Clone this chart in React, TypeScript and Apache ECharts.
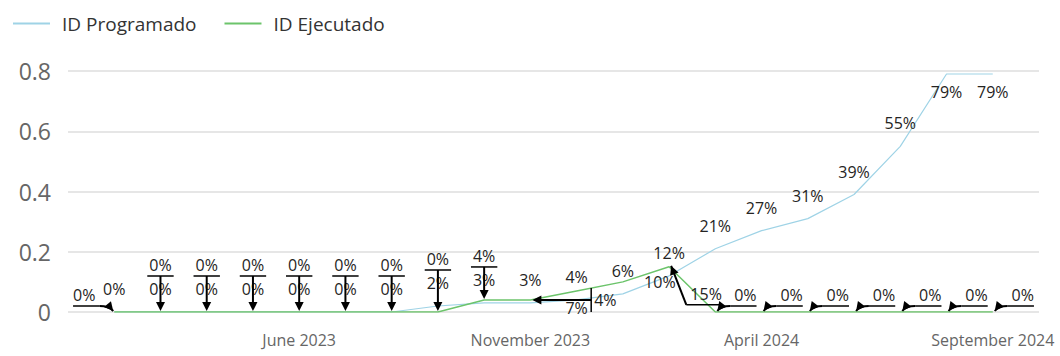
import React, { useEffect, useRef } from "react";
import * as echarts from "echarts";

// ---- data ----
const months = [
  "January 2023", "February 2023", "March 2023", "April 2023", "May 2023", "June 2023",
  "July 2023", "August 2023", "September 2023", "October 2023", "November 2023", "December 2023",
  "January 2024", "February 2024", "March 2024", "April 2024", "May 2024", "June 2024",
  "July 2024", "August 2024", "September 2024", "October 2024",
];
const programado: (number | null)[] = [
  null, 0, 0, 0, 0, 0, 0, 0, 0.02, 0.03, 0.03, 0.04, 0.06, 0.12, 0.21, 0.27, 0.31, 0.39, 0.55, 0.79, 0.79, null,
];
const ejecutado: (number | null)[] = [
  null, 0, 0, 0, 0, 0, 0, 0, 0, 0.04, 0.04, 0.07, 0.1, 0.15, 0, 0, 0, 0, 0, 0, 0, null,
];
const xTickLabels = ["June 2023", "November 2023", "April 2024", "September 2024"];
const yTicks = [0, 0.2, 0.4, 0.6, 0.8];

// ---- label layout (offsets from the point, px) ----
type Lay = { dx: number; dy: number; leader?: "down" | "toLeft" | "toRight" | "side" };
const blueLay: (Lay | null)[] = months.map((_, k) => {
  if (k === 19 || k === 20) return { dx: 0, dy: 18 };
  return { dx: 0, dy: -23 };
});
const greenLay: (Lay | null)[] = months.map((_, k) => {
  if (k === 1) return { dx: -30, dy: -17, leader: "toRight" };
  if (k >= 2 && k <= 7) return { dx: 0, dy: -47, leader: "down" };
  if (k === 8) return { dx: 0, dy: -53, leader: "down" };
  if (k === 9) return { dx: 0, dy: -44, leader: "down" };
  if (k === 10) return { dx: 75, dy: 0, leader: "side" };
  if (k === 11) return { dx: 0, dy: 17 };
  if (k === 12) return { dx: 37, dy: 0 };
  if (k === 13) return { dx: 37, dy: 27, leader: "toLeft" };
  return { dx: 30, dy: -17, leader: "toLeft" };
});

const BLUE = "#9fd3e6";
const GREEN = "#6cc46b";
const FONT = "'Open Sans', 'Noto Sans', sans-serif";
const LABEL_SIZE = 16;
const LABEL_COLOR = "#252423";

let measureCtx: CanvasRenderingContext2D | null = null;
function textWidth(t: string): number {
  if (!measureCtx) measureCtx = document.createElement("canvas").getContext("2d");
  if (!measureCtx) return t.length * 9;
  measureCtx.font = `${LABEL_SIZE}px ${FONT}`;
  return measureCtx.measureText(t).width;
}

function arrowHead(tx: number, ty: number, fx: number, fy: number) {
  let dx = tx - fx, dy = ty - fy;
  const len = Math.sqrt(dx * dx + dy * dy) || 1;
  dx /= len; dy /= len;
  const L = 9, W = 4.5;
  const bx = tx - dx * L, by = ty - dy * L;
  return {
    type: "polygon",
    shape: { points: [[tx, ty], [bx - dy * W, by + dx * W], [bx + dy * W, by - dx * W]] },
    style: { fill: "#000" },
  };
}

function makeRenderer(lays: (Lay | null)[]) {
  return (params: any, api: any) => {
    const k = api.value(0);
    const v = api.value(1);
    const p = api.coord([k, v]);
    const px = p[0], py = p[1];
    const lay = lays[k];
    if (!lay) return null;
    const text = Math.round(v * 100) + "%";
    const w = textWidth(text);
    const lx = px + lay.dx, ly = py + lay.dy;
    const children: any[] = [
      {
        type: "text",
        x: lx,
        y: ly,
        style: {
          text,
          fill: LABEL_COLOR,
          fontSize: LABEL_SIZE,
          fontFamily: FONT,
          align: "center",
          verticalAlign: "middle",
        },
      },
    ];
    const stroke = { stroke: "#000", lineWidth: 2, fill: null };
    const uy = ly + 11;
    if (lay.leader === "down") {
      children.push({ type: "line", shape: { x1: lx - w / 2 - 2, y1: uy, x2: lx + w / 2 + 2, y2: uy }, style: { stroke: "#000", lineWidth: 1.5 } });
      const ty = py - 1;
      children.push({ type: "line", shape: { x1: lx, y1: uy, x2: px, y2: ty - 8 }, style: stroke });
      children.push(arrowHead(px, ty, lx, uy));
    } else if (lay.leader === "toLeft" || lay.leader === "toRight") {
      const left = lay.leader === "toLeft";
      const x1 = lx - w / 2 - (left ? 4 : 0);
      const x2 = lx + w / 2 + (left ? 0 : 4);
      children.push({ type: "line", shape: { x1, y1: uy, x2, y2: uy }, style: { stroke: "#000", lineWidth: 1.5 } });
      const sx = left ? x1 : x2;
      const tx = px + (left ? 2 : -1), ty = py - 1;
      if (Math.abs(ty - uy) < 12) {
        const cx = sx + (tx - sx) * 0.7, cy = uy;
        children.push({ type: "bezierCurve", shape: { x1: sx, y1: uy, x2: tx, y2: ty, cpx1: cx, cpy1: cy }, style: stroke });
        children.push(arrowHead(tx, ty, cx, cy));
      } else {
        children.push({ type: "line", shape: { x1: sx, y1: uy, x2: tx, y2: ty }, style: stroke });
        children.push(arrowHead(tx, ty, sx, uy));
      }
    } else if (lay.leader === "side") {
      const bx = lx - w / 2 - 3;
      children.push({ type: "line", shape: { x1: bx, y1: ly - 12, x2: bx, y2: ly + 12 }, style: { stroke: "#000", lineWidth: 1.5 } });
      const tx = px + 2;
      children.push({ type: "line", shape: { x1: bx, y1: ly, x2: tx + 6, y2: py }, style: stroke });
      children.push(arrowHead(tx, py, bx, ly));
    }
    return { type: "group", children };
  };
}

function labelData(vals: (number | null)[]) {
  const out: number[][] = [];
  vals.forEach((v, k) => {
    if (v != null) out.push([k, v]);
  });
  return out;
}

export default function App() {
  const ref = useRef<HTMLDivElement>(null);
  useEffect(() => {
    if (!ref.current) return;
    const chart = echarts.init(ref.current, null, { renderer: "svg" });
    chart.setOption({
      animation: false,
      textStyle: { fontFamily: FONT },
      legend: {
        data: [
          { name: "ID Programado", icon: "rect", itemStyle: { color: BLUE } },
          { name: "ID Ejecutado", icon: "rect", itemStyle: { color: GREEN } },
        ],
        left: 8,
        top: 9,
        itemWidth: 37,
        itemHeight: 2,
        itemGap: 28,
        textStyle: { fontSize: 19, color: "#333", fontFamily: FONT, padding: [0, 0, 0, 7] },
      },
      grid: { left: 68, right: 21, top: 71, bottom: 44, outerBoundsMode: "none" },
      xAxis: {
        type: "category",
        data: months,
        boundaryGap: false,
        axisLine: { show: false },
        axisTick: { show: false },
        splitLine: { show: false },
        axisLabel: {
          interval: (_i: number, val: string) => xTickLabels.includes(val),
          color: "#666",
          fontSize: 16,
          margin: 20,
          fontFamily: FONT,
        },
      },
      yAxis: {
        type: "value",
        min: yTicks[0],
        max: yTicks[yTicks.length - 1],
        interval: 0.2,
        axisLine: { show: false },
        axisTick: { show: false },
        axisLabel: { color: "#666", fontSize: 23, margin: 17, fontFamily: FONT },
        splitLine: { lineStyle: { color: "#dedede", width: 1.5 } },
      },
      series: [
        {
          name: "ID Programado",
          type: "line",
          data: programado,
          symbol: "none",
          showSymbol: false,
          lineStyle: { color: BLUE, width: 1.2 },
          itemStyle: { color: BLUE },
          z: 2,
        },
        {
          name: "ID Ejecutado",
          type: "line",
          data: ejecutado,
          symbol: "none",
          showSymbol: false,
          lineStyle: { color: GREEN, width: 1.5 },
          itemStyle: { color: GREEN },
          z: 3,
        },
        {
          name: "progLabels",
          type: "custom",
          coordinateSystem: "cartesian2d",
          data: labelData(programado),
          encode: { x: 0, y: 1 },
          renderItem: makeRenderer(blueLay),
          clip: false,
          silent: true,
          z: 10,
        },
        {
          name: "ejecLabels",
          type: "custom",
          coordinateSystem: "cartesian2d",
          data: labelData(ejecutado),
          encode: { x: 0, y: 1 },
          renderItem: makeRenderer(greenLay),
          clip: false,
          silent: true,
          z: 11,
        },
      ],
    });
    return () => chart.dispose();
  }, []);
  return (
    <div
      ref={ref}
      style={{ position: "fixed", left: 0, top: 0, width: 1060, height: 356, background: "#fff" }}
    />
  );
}
